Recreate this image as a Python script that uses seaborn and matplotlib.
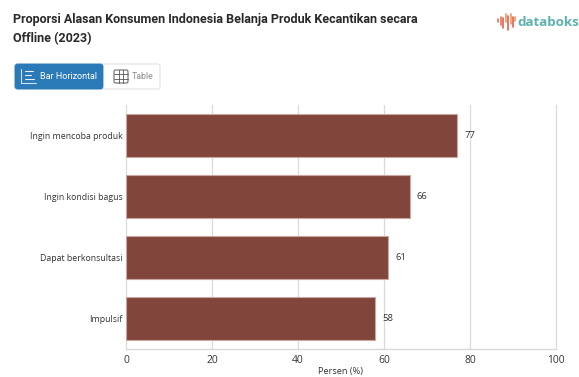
import matplotlib
matplotlib.use("Agg")
import matplotlib.pyplot as plt
from matplotlib.patches import FancyBboxPatch
import pandas as pd
import seaborn as sns

# Survey results
reasons = ["Ingin mencoba produk", "Ingin kondisi bagus", "Dapat berkonsultasi", "Impulsif"]
shares = [77, 66, 61, 58]
x_ticks = [0, 20, 40, 60, 80, 100]

title_lines = ["Proporsi Alasan Konsumen Indonesia Belanja Produk Kecantikan secara", "Offline (2023)"]
x_label = "Persen (%)"

W, H = 579, 377
BAR_COLOR = "#82453b"
BAR_EDGE = "#c9a7a1"
GRID = "#dadada"
TEXT = "#333333"

sns.set_theme(style="white")
plt.rcParams["font.family"] = ["Open Sans", "DejaVu Sans"]

fig = plt.figure(figsize=(W / 100, H / 100), dpi=100, facecolor="white")

# Main plot area
ax = fig.add_axes([126 / W, 1 - 349 / H, 430 / W, 244 / H])
df = pd.DataFrame({"reason": reasons, "share": shares})
sns.barplot(data=df, y="reason", x="share", order=reasons, color=BAR_COLOR,
            saturation=1, width=0.71, edgecolor=BAR_EDGE, linewidth=0.8, ax=ax, zorder=3)
ax.set_xlim(0, 100)
ax.set_ylim(3.5, -0.5)
ax.set_xticks(x_ticks)
ax.grid(axis="x", color=GRID, linewidth=0.9, zorder=0)
for gridline in ax.get_xgridlines():
    gridline.set_clip_on(False)
ax.set_axisbelow(True)
ax.set_ylabel("")
ax.set_xlabel("")
ax.tick_params(axis="x", length=0, labelsize=7.4, labelcolor=TEXT, pad=4)
ax.tick_params(axis="y", length=0, labelsize=6.3, labelcolor=TEXT, pad=2.5)
for side in ("top", "right", "left"):
    ax.spines[side].set_visible(False)
ax.spines["bottom"].set_color("#d8d8d8")
ax.spines["bottom"].set_linewidth(1.0)

# The value labels are placed just beyond each bar end
for i, v in enumerate(shares):
    ax.annotate(str(v), (v, i), xytext=(5, 0), textcoords="offset points",
                va="center", ha="left", fontsize=6.8, color=TEXT, zorder=5)

# Overlay in pixel units for the header elements
ov = fig.add_axes([0, 0, 1, 1], facecolor="none", zorder=5)
ov.set_xlim(0, W)
ov.set_ylim(H, 0)
ov.axis("off")

ov.text(341, 371.5, x_label, fontsize=6.6, color=TEXT, va="center", ha="center")

ov.text(13, 19.5, title_lines[0], fontsize=9.02, family="Roboto", weight="bold",
        color="#2a2a2a", va="center", ha="left")
ov.text(13, 39, title_lines[1], fontsize=9.02, family="Roboto", weight="bold",
        color="#2a2a2a", va="center", ha="left")

# Toggle buttons
ov.add_patch(FancyBboxPatch((15, 64), 145, 25, boxstyle="round,pad=0,rounding_size=2.5",
                            fc="white", ec="#e2e2e2", lw=0.8))
ov.add_patch(FancyBboxPatch((15, 64), 88, 25, boxstyle="round,pad=0,rounding_size=2.5",
                            fc="#2a7ab8", ec="#2a7ab8", lw=0.6))
ov.text(39.5, 76.5, "Bar Horizontal", fontsize=6.5, color="white", va="center", ha="left",
        family="Roboto")
ov.text(132, 76.5, "Table", fontsize=6.3, color="#8d8d8d", va="center", ha="left", family="Roboto")

# Bar-chart glyph on the active button
ov.plot([21, 21, 36], [69, 83, 83], color="#cfe3f2", lw=0.8)
for y0, x1 in ((71, 33), (75, 31), (79, 34)):
    ov.plot([25, x1], [y0, y0], color="#e6f0f8", lw=0.8)

# Table glyph on the inactive button
ov.add_patch(FancyBboxPatch((114, 70), 14, 13, boxstyle="round,pad=0,rounding_size=1.5",
                            fc="none", ec="#555555", lw=0.7))
for gx in (118.7, 123.3):
    ov.plot([gx, gx], [70, 83], color="#555555", lw=0.6)
for gy in (74.3, 78.6):
    ov.plot([114, 128], [gy, gy], color="#555555", lw=0.6)

# Brand mark and wordmark
for x0, y0, y1, col in (
    (498, 19, 22, "#e8735f"), (500.5, 17, 25, "#e8735f"), (503, 18, 28, "#e0604f"),
    (506, 14, 22, "#ef9a5c"), (508, 16, 30, "#e0604f"), (510.5, 14, 24, "#ef9a5c"),
    (513, 17, 27, "#e0604f"), (515, 17, 21, "#ef9a5c"),
):
    ov.plot([x0, x0], [y0, y1], color=col, lw=1.2, solid_capstyle="round")
ov.text(517, 22, "databoks", fontsize=9.6, color="#5cb3ad", weight="bold",
        family="Open Sans", va="center", ha="left")

fig.savefig("out.png", dpi=100)
